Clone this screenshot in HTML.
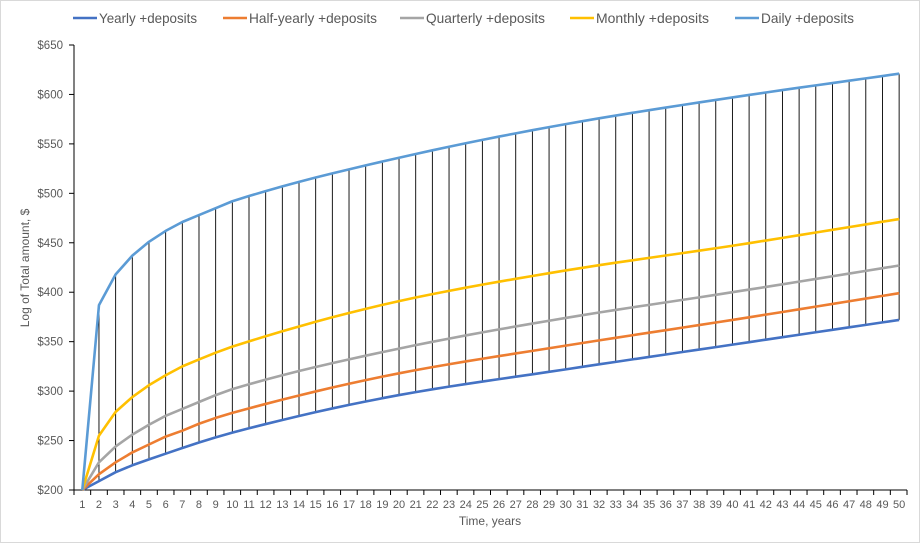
<!DOCTYPE html>
<html><head><meta charset="utf-8"><style>
body{margin:0;background:#fff;}
svg{display:block;font-family:"Liberation Sans",sans-serif;}
</style></head><body>
<svg id="c" width="920" height="543" xmlns="http://www.w3.org/2000/svg">
<rect x="0.5" y="0.5" width="919" height="542" fill="#fff" stroke="#d9d9d9"/>
<g id="g"></g>
</svg>
<script>
const NS="http://www.w3.org/2000/svg",g=document.getElementById('g');
function el(t,a,txt){const e=document.createElementNS(NS,t);for(const k in a)e.setAttribute(k,a[k]);if(txt!=null)e.textContent=txt;g.appendChild(e);return e;}
const X=n=>82.3+(n-1)*16.67, Y=v=>490-(v-200)*0.9889;
function interp(pts){const xs=pts.map(p=>p[0]),ys=pts.map(p=>p[1]),m=xs.length;
 const d=[];for(let i=0;i<m-1;i++)d.push((ys[i+1]-ys[i])/(xs[i+1]-xs[i]));
 const t=[d[0]];for(let i=1;i<m-1;i++)t.push(d[i-1]*d[i]<=0?0:2/(1/d[i-1]+1/d[i]));t.push(d[m-2]);
 const out=[];for(let n=1;n<=50;n++){let i=0;while(i<m-2&&n>xs[i+1])i++;
  const h=xs[i+1]-xs[i],s=(n-xs[i])/h,h00=2*s*s*s-3*s*s+1,h10=s*s*s-2*s*s+s,h01=-2*s*s*s+3*s*s,h11=s*s*s-s*s;
  out.push(h00*ys[i]+h10*h*t[i]+h01*ys[i+1]+h11*h*t[i+1]);}return out;}
const S=[
["#4472C4",[[1,200],[2,209],[3,218],[4,225],[5,231],[10,258],[20,296],[30,322],[40,347],[50,372]]],
["#ED7D31",[[1,200],[2,216],[3,228],[4,238],[5,246],[6,254],[7,260],[8,267],[10,278],[20,318],[30,346],[40,372],[50,399]]],
["#A5A5A5",[[1,200],[2,228],[3,244],[4,256],[5,266],[6,275],[7,282],[8,289],[10,302],[20,343],[30,374],[40,400],[50,427]]],
["#FFC000",[[1,200],[2,255],[3,279],[4,294],[5,306],[6,316],[7,325],[8,332],[10,345],[20,391],[30,422],[40,447],[50,474]]],
["#5B9BD5",[[1,200],[2,387],[3,418],[4,437],[5,451],[6,462],[7,471],[8,478],[9,485],[10,492],[20,536],[30,570],[40,597],[50,621]]]];
const vals=S.map(s=>interp(s[1]));
for(let v=200;v<=650;v+=50){const y=Y(v);el('line',{x1:69,x2:74,y1:y,y2:y,stroke:'#000'});
 el('text',{x:63,y:y+4,'text-anchor':'end','font-size':11.5,fill:'#595959'},'$'+v);}
el('line',{x1:74,x2:74,y1:Y(650),y2:490,stroke:'#000'});
el('line',{x1:74,x2:907,y1:490,y2:490,stroke:'#000'});
for(let i=0;i<=50;i++){const x=74+i*16.66;el('line',{x1:x,x2:x,y1:490,y2:495,stroke:'#000'});}
for(let n=1;n<=50;n++)el('text',{x:X(n),y:508,'text-anchor':'middle','font-size':11,fill:'#595959'},n);
for(let n=1;n<=50;n++)el('line',{x1:X(n),x2:X(n),y1:Y(vals[4][n-1]),y2:Y(vals[0][n-1]),stroke:'#000','stroke-width':0.9});
S.forEach((s,k)=>{el('polyline',{points:vals[k].map((v,i)=>X(i+1)+','+Y(v)).join(' '),fill:'none',stroke:s[0],'stroke-width':2.6,'stroke-linejoin':'round'});});
el('text',{x:490,y:525,'text-anchor':'middle','font-size':12,fill:'#595959'},'Time, years');
el('text',{x:0,y:0,'text-anchor':'middle','font-size':12,fill:'#595959',transform:'translate(29,268) rotate(-90)'},'Log of Total amount, $');
const L=[[73,'Yearly +deposits',98],[223,'Half-yearly +deposits',128],[400,'Quarterly +deposits',119],[570,'Monthly +deposits',113],[735,'Daily +deposits',93]];
L.forEach((l,k)=>{el('line',{x1:l[0],x2:l[0]+24,y1:18,y2:18,stroke:S[k][0],'stroke-width':2.6});
 el('text',{x:l[0]+26,y:23,'font-size':14,fill:'#595959',textLength:l[2],lengthAdjust:'spacingAndGlyphs'},l[1]);});
</script>
</body></html>
